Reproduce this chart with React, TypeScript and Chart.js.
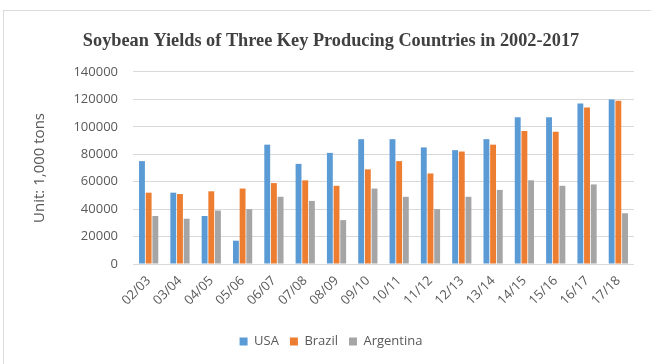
import React, { useEffect, useRef } from "react";
import { Chart, registerables } from "chart.js";

Chart.register(...registerables);

const categories = ["02/03", "03/04", "04/05", "05/06", "06/07", "07/08", "08/09", "09/10", "10/11", "11/12", "12/13", "13/14", "14/15", "15/16", "16/17", "17/18"];
const usa = [75000, 52000, 35000, 17000, 87000, 73000, 81000, 91000, 91000, 85000, 83000, 91000, 107000, 107000, 117000, 120000];
const brazil = [52000, 51000, 53000, 55000, 59000, 61000, 57000, 69000, 75000, 66000, 82000, 87000, 97000, 96500, 114000, 119000];
const argentina = [35000, 33000, 39000, 40000, 49000, 46000, 32000, 55000, 49000, 40000, 49000, 54000, 61000, 57000, 58000, 37000];
const yTicks = [0, 20000, 40000, 60000, 80000, 100000, 120000, 140000];

export default function App() {
  const ref = useRef<HTMLCanvasElement | null>(null);
  useEffect(() => {
    if (!ref.current) return;
    const tickFont = { family: "'Open Sans'", size: 13 };
    const chart = new Chart(ref.current, {
      type: "bar",
      data: {
        labels: categories,
        datasets: [
          { label: "USA", data: usa, backgroundColor: "#5B9BD5" },
          { label: "Brazil", data: brazil, backgroundColor: "#ED7D31" },
          { label: "Argentina", data: argentina, backgroundColor: "#A5A5A5" },
        ],
      },
      options: {
        animation: false,
        responsive: false,
        maintainAspectRatio: false,
        datasets: { bar: { categoryPercentage: 0.64, barPercentage: 0.88 } },
        layout: { padding: { top: 12, right: 17, bottom: 6, left: 17 } },
        plugins: {
          title: {
            display: true,
            text: "Soybean Yields of Three Key Producing Countries in 2002-2017",
            color: "#404040",
            font: { family: "'Liberation Serif'", size: 18.3, weight: "bold" },
            padding: { top: 8, bottom: 20 },
          },
          legend: {
            position: "bottom",
            labels: {
              boxWidth: 8,
              boxHeight: 8,
              color: "#595959",
              font: { family: "'Open Sans'", size: 13 },
              padding: 11,
            },
          },
          tooltip: { enabled: false },
        },
        scales: {
          x: {
            grid: { display: false },
            border: { display: false },
            ticks: {
              color: "#595959",
              font: tickFont,
              minRotation: 45,
              maxRotation: 45,
              padding: 1,
            },
            afterFit: (s: any) => { s.height = 60; },
          },
          y: {
            min: 0,
            max: 140000,
            afterBuildTicks: (s: any) => { s.ticks = yTicks.map((v) => ({ value: v })); },
            grid: { color: "#D9D9D9", drawTicks: false },
            border: { display: false },
            ticks: { color: "#595959", font: tickFont, padding: 15, callback: (v: any) => String(v) },
            title: {
              display: true,
              text: "Unit: 1,000 tons",
              color: "#595959",
              font: { family: "'Open Sans'", size: 15 },
              padding: { top: 3, bottom: 0 },
            },
            afterFit: (s: any) => { s.width = 105; },
          },
        },
      },
    });
    return () => chart.destroy();
  }, []);
  return (
    <div style={{ position: "absolute", left: 0, top: 0, width: 651, height: 364, background: "#fff", overflow: "hidden" }}>
      <div style={{ position: "absolute", left: 3, top: 10, width: 660, height: 400, borderLeft: "1px solid #DCDCDC", borderTop: "1px solid #DCDCDC" }} />
      <canvas ref={ref} width={640} height={354} style={{ position: "absolute", left: 11, top: 10, width: 640, height: 354 }} />
    </div>
  );
}
